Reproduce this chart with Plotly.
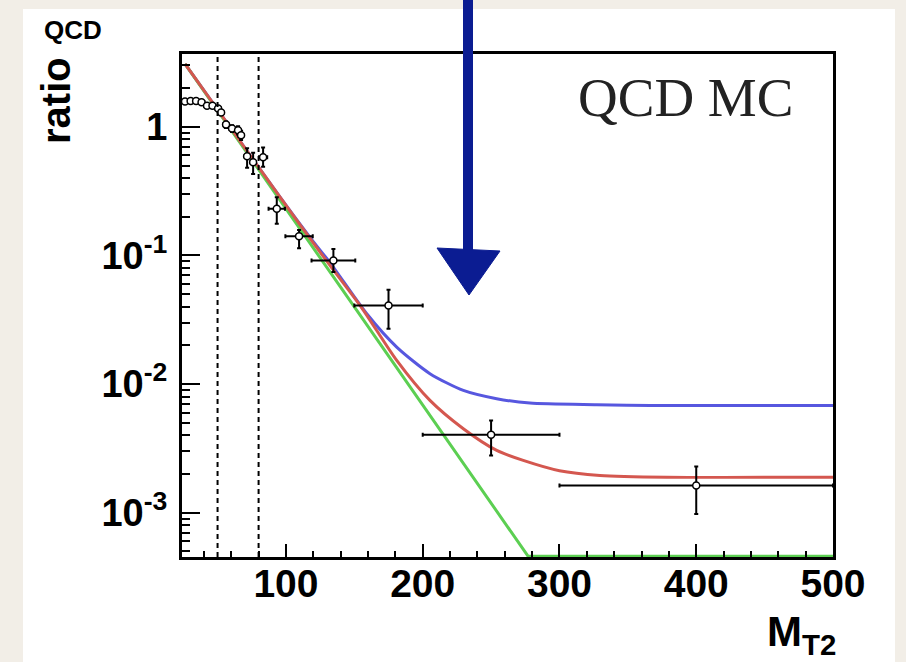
import plotly.graph_objects as go

# ---------------- data ----------------
mt2 = [26.2, 30.3, 34.3, 38.3, 42.3, 46.3, 50.4, 52.6, 56.2, 60.6, 65.0, 67.2,
       71.6, 76.0, 83.3, 93.3, 109.6, 134.7, 175.0, 250.0, 400.0]
mt2_err = [2, 2, 2, 2, 2, 2, 2, 2, 2, 2, 2, 2, 2, 2, 3, 6, 10, 16, 25, 50, 100]
ratio = [1.57, 1.59, 1.59, 1.55, 1.46, 1.46, 1.39, 1.29, 1.04, 0.97, 0.94, 0.86,
         0.59, 0.53, 0.58, 0.231, 0.141, 0.0914, 0.0409, 0.00404, 0.00163]
ratio_err_up = [0.03, 0.03, 0.03, 0.03, 0.04, 0.04, 0.05, 0.05, 0.06, 0.06, 0.07, 0.07,
                0.09, 0.10, 0.11, 0.053, 0.017, 0.021, 0.0132, 0.00118, 0.00066]
ratio_err_dn = [0.03, 0.03, 0.03, 0.03, 0.04, 0.04, 0.05, 0.05, 0.06, 0.06, 0.07, 0.07,
                0.11, 0.10, 0.09, 0.055, 0.027, 0.017, 0.0140, 0.00125, 0.00065]

blue_x = [26.2, 60.0, 95.7, 120.0, 132.2, 159.1, 181.0, 205.3, 229.7, 254.1, 278.4, 327.2, 366.2, 500.0]
blue_y = [3.087, 0.966, 0.2838, 0.128, 0.0880, 0.0352, 0.01939, 0.01205, 0.00893, 0.00770,
          0.00712, 0.00692, 0.00683, 0.00683]

red_x = [26.2, 60.0, 95.7, 120.0, 132.2, 155.4, 181.0, 205.3, 229.7, 254.1, 273.5, 300.0, 329.6, 378.4, 500.0]
red_y = [3.087, 0.966, 0.2838, 0.125, 0.0836, 0.0392, 0.01528, 0.00747, 0.00450, 0.00305,
         0.00255, 0.00212, 0.00195, 0.00189, 0.00189]

green_x = [26.2, 277.0, 500.0]
green_y = [3.087, 0.00046, 0.00046]

cut_lines = [50, 80]

x_range = [24, 500]
y_range = [-3.344, 0.566]   # log10 of 4.53e-4 and 3.68

y_tickvals = [1, 0.1, 0.01, 0.001]
y_ticktext = ["1", "10<sup>-1</sup>", "10<sup>-2</sup>", "10<sup>-3</sup>"]

# ---------------- geometry helpers ----------------
W, H = 906, 662
L, R, T, B = 182, 833, 54, 557


def px(x):
    return (x - L) / (R - L)


def py(y):
    return (B - y) / (B - T)


BOLD = dict(family="Liberation Sans, Arial, Helvetica, sans-serif", color="black", weight="bold")

fig = go.Figure()

fig.add_trace(go.Scatter(x=blue_x, y=blue_y, mode="lines",
                         line=dict(color="#5757df", width=3, shape="spline", smoothing=0.7),
                         hoverinfo="skip", showlegend=False))
fig.add_trace(go.Scatter(x=green_x, y=green_y, mode="lines",
                         line=dict(color="#5ccf52", width=3),
                         hoverinfo="skip", showlegend=False))
fig.add_trace(go.Scatter(x=red_x, y=red_y, mode="lines",
                         line=dict(color="#d4574f", width=3, shape="spline", smoothing=0.7),
                         hoverinfo="skip", showlegend=False))

fig.add_trace(go.Scatter(
    x=mt2, y=ratio, mode="markers",
    marker=dict(symbol="circle", size=7, color="white", line=dict(color="black", width=1.5)),
    error_x=dict(type="data", array=mt2_err, color="black", thickness=2, width=2),
    error_y=dict(type="data", symmetric=False, array=ratio_err_up, arrayminus=ratio_err_dn,
                 color="black", thickness=2, width=2),
    showlegend=False))

shapes = []
# page: beige frame with white sheet
shapes.append(dict(type="rect", xref="paper", yref="paper", layer="below",
                   x0=px(23), x1=px(895), y0=py(H + 5), y1=py(9),
                   fillcolor="white", line=dict(width=0)))
# dashed cut lines
for c in cut_lines:
    shapes.append(dict(type="line", xref="x", yref="paper", x0=c, x1=c, y0=0, y1=1,
                       line=dict(color="black", width=2, dash="5px,4px")))
# hand drawn blue arrow
ARROW = "#0b1c92"
shapes.append(dict(type="rect", xref="paper", yref="paper",
                   x0=px(463), x1=px(473), y0=py(252), y1=py(-5),
                   fillcolor=ARROW, line=dict(width=0)))
shapes.append(dict(type="path", xref="paper", yref="paper",
                   path=f"M {px(437)},{py(248)} L {px(500)},{py(251)} L {px(469)},{py(295)} Z",
                   fillcolor=ARROW, line=dict(color=ARROW, width=1)))

annotations = [
    dict(text="QCD MC", xref="paper", yref="paper", x=px(685), y=py(97),
         xanchor="center", yanchor="middle", showarrow=False,
         font=dict(family="Liberation Serif, Times New Roman, serif", size=55, color="#222222")),
    dict(text="ratio", xref="paper", yref="paper", x=px(56), y=py(101),
         xanchor="center", yanchor="middle", showarrow=False, textangle=-90,
         font=dict(size=40, **BOLD)),
    dict(text="QCD", xref="paper", yref="paper", x=px(73), y=py(30),
         xanchor="center", yanchor="middle", showarrow=False,
         font=dict(size=26, **BOLD)),
    dict(text="M<sub>T2</sub>", xref="paper", yref="paper", x=px(838), y=py(634),
         xanchor="right", yanchor="middle", showarrow=False,
         font=dict(size=42, **BOLD)),
]

fig.update_layout(
    width=W, height=H,
    margin=dict(l=L, r=W - R, t=T, b=H - B, pad=0),
    paper_bgcolor="#f2eee7",
    plot_bgcolor="white",
    shapes=shapes,
    annotations=annotations,
    showlegend=False,
)

fig.update_xaxes(
    range=x_range, showgrid=False, zeroline=False,
    showline=True, mirror=True, linecolor="black", linewidth=3,
    ticks="inside", ticklen=13, tickwidth=2, tickcolor="black",
    tick0=0, dtick=100,
    minor=dict(ticks="inside", ticklen=6, tickwidth=2, tickcolor="black", dtick=20, tick0=0, showgrid=False),
    tickfont=dict(size=39, **BOLD),
    ticklabelstandoff=-10,
)
fig.update_yaxes(
    type="log", range=y_range, showgrid=False, zeroline=False,
    showline=True, mirror=True, linecolor="black", linewidth=3,
    ticks="inside", ticklen=18, tickwidth=2, tickcolor="black",
    tickmode="array", tickvals=y_tickvals, ticktext=y_ticktext,
    minor=dict(ticks="inside", ticklen=8, tickwidth=2, tickcolor="black", dtick="D1", showgrid=False),
    tickfont=dict(size=38, **BOLD),
    ticklabelstandoff=4,
)

fig.write_html("out.html")
